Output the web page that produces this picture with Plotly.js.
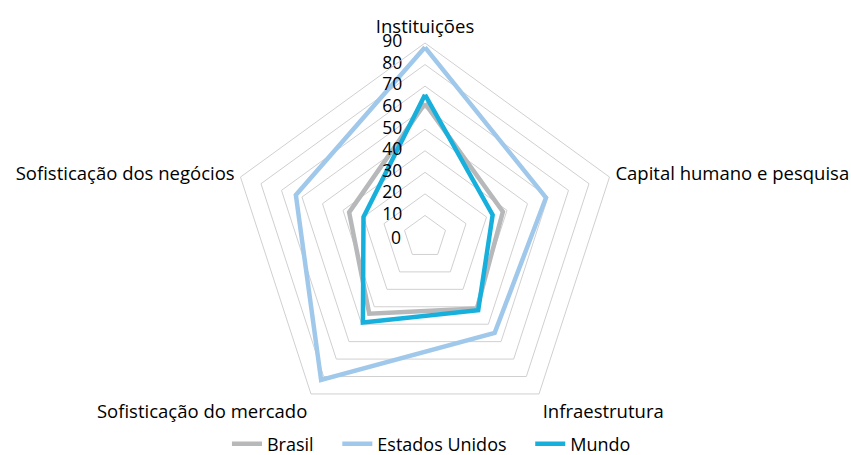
<!DOCTYPE html>
<html><head><meta charset="utf-8">
<script src="https://cdn.plot.ly/plotly-3.0.1.min.js"></script>
<style>html,body{margin:0;padding:0;background:#fff;overflow:hidden}#c{width:851px;height:470px}</style>
</head><body><div id="c"></div>
<script>
const categories = ["Instituições", "Capital humano e pesquisa", "Infraestrutura", "Sofisticação do mercado", "Sofisticação dos negócios"];
const seriesNames = ["Brasil", "Estados Unidos", "Mundo"];
const brasil = [62, 38, 41, 44, 37];
const estadosUnidos = [88, 59, 55, 82, 63];
const mundo = [66, 33, 42, 49, 30];
const radialTicks = [0, 10, 20, 30, 40, 50, 60, 70, 80, 90];

function closed(a){ return a.concat([a[0]]); }
const theta = closed(categories);
const colors = ["#b7b8ba", "#9fc8ea", "#17b0dd"];
const values = [brasil, estadosUnidos, mundo];

const traces = seriesNames.map((n, i) => ({
  type: "scatterpolar", mode: "lines",
  name: n + (i < seriesNames.length - 1 ? "\u00a0\u00a0\u00a0\u00a0" : ""),
  r: closed(values[i]), theta: theta,
  line: {color: colors[i], width: 4.5}, hoverinfo: "skip"
}));

// radial tick labels (10..90), placed left of the vertical axis
const outerTicks = radialTicks.filter(v => v !== 0);
traces.push({
  type: "scatterpolar", mode: "text", showlegend: false, hoverinfo: "skip",
  cliponaxis: false,
  r: outerTicks, theta: outerTicks.map(() => categories[0]),
  text: outerTicks.map(v => String(v) + "\u00a0\u00a0\u00a0\u00a0\u00a0"),
  textposition: "middle left",
  textfont: {family: "Open Sans, sans-serif", size: 17.5, color: "#000"}
});

const W = 851, H = 470, cx = 425, cy = 237, R = 194;
const layout = {
  width: W, height: H,
  margin: {l: 0, r: 0, t: 0, b: 0},
  paper_bgcolor: "#fff",
  font: {family: "Open Sans, sans-serif", size: 18.5, color: "#000"},
  showlegend: true,
  legend: {orientation: "h", x: 0.507, xanchor: "center", y: 1 - 444 / H, yanchor: "middle",
           font: {size: 18}, tracegroupgap: 0},
  // centre tick label "0" (the polar centre point cannot carry a text node)
  annotations: [{
    xref: "paper", yref: "paper", x: (cx - 23) / W, y: 1 - cy / H,
    xanchor: "right", yanchor: "middle", showarrow: false, borderpad: 0,
    text: String(radialTicks[0]), font: {family: "Open Sans, sans-serif", size: 17.5, color: "#000"}
  }],
  polar: {
    domain: {x: [(cx - R) / W, (cx + R) / W], y: [1 - (cy + R) / H, 1 - (cy - R) / H]},
    gridshape: "linear",
    bgcolor: "#fff",
    angularaxis: {
      rotation: 90, direction: "clockwise",
      showline: true, linecolor: "#d0d0d0", linewidth: 1,
      showgrid: false, ticks: "outside", ticklen: 2, tickcolor: "rgba(0,0,0,0)",
      tickfont: {size: 18.5, color: "#000"}
    },
    radialaxis: {
      range: [0, 90], tickvals: outerTicks, showticklabels: false,
      angle: 90, showline: false, ticks: "", gridcolor: "#d0d0d0", gridwidth: 1
    }
  }
};
Plotly.newPlot("c", traces, layout, {displayModeBar: false, staticPlot: true});
</script></body></html>
